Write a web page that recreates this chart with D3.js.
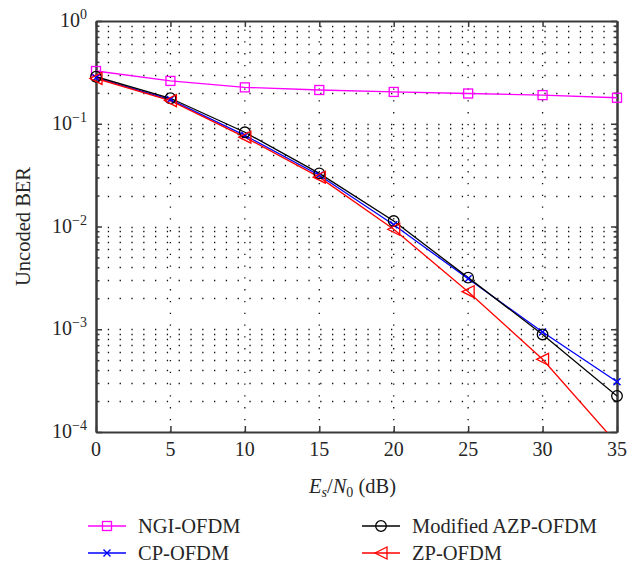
<!DOCTYPE html>
<html>
<head>
<meta charset="utf-8">
<script src="https://cdn.jsdelivr.net/npm/d3@7"></script>
<style>
  html, body { margin: 0; padding: 0; background: #fff; }
  svg { display: block; }
</style>
</head>
<body>
<svg id="chart" width="643" height="563" style="font-family: 'Liberation Serif', 'Times New Roman', Times, 'DejaVu Serif', serif;"></svg>
<script>
// ---- data ----
const snr = [0, 5, 10, 15, 20, 25, 30, 35];
const ngiOfdm = [0.326, 0.261, 0.226, 0.213, 0.204, 0.197, 0.190, 0.179];
const cpOfdm = [0.280, 0.172, 0.077, 0.0315, 0.0104, 0.0031, 0.00094, 0.000309];
const azpOfdm = [0.287, 0.177, 0.0826, 0.0329, 0.0113, 0.00318, 0.00089, 0.000224];
const zpOfdm = [0.276, 0.168, 0.074, 0.0302, 0.0094, 0.00232, 0.00051, 0.000077];
const xTicks = [0, 5, 10, 15, 20, 25, 30, 35];
const yTickExps = [0, -1, -2, -3, -4];
const seriesNames = ["NGI-OFDM", "CP-OFDM", "Modified AZP-OFDM", "ZP-OFDM"];
const xLabel = "E_s/N_0 (dB)";
const yLabel = "Uncoded BER";

// ---- layout ----
const FONT = "'Liberation Serif', 'Times New Roman', Times, 'DejaVu Serif', serif";
const TXT = "#262626";
const L = 96, R = 617, T = 21, B = 432;
const svg = d3.select("#chart");
const x = d3.scaleLinear().domain([0, 35]).range([L, R]);
const y = d3.scaleLog().domain([1e-4, 1]).range([B, T]);

const majors = yTickExps.map(e => Math.pow(10, e));
const minors = [];
for (let e = -4; e < 0; e++) for (let m = 2; m <= 9; m++) minors.push(m * Math.pow(10, e));

// grid
const grid = svg.append("g").attr("stroke", "#111").attr("stroke-width", 1.3)
  .attr("stroke-dasharray", "1.3,10.5");
grid.selectAll("line.h").data(minors.concat(majors.filter(v => v > 1e-4 && v < 1)))
  .enter().append("line")
  .attr("x1", L).attr("x2", R)
  .attr("y1", d => Math.round(y(d)) + 0.5).attr("y2", d => Math.round(y(d)) + 0.5);
grid.selectAll("line.v").data(xTicks.filter(v => v > 0 && v < 35))
  .enter().append("line")
  .attr("x1", d => x(d)).attr("x2", d => x(d))
  .attr("y1", B).attr("y2", T);

// axes (ticks inward)
const axisColor = "#3a3a3a";
function styleAxis(g) {
  g.select(".domain").attr("stroke", axisColor).attr("stroke-width", 2);
  g.selectAll(".tick line").attr("stroke", axisColor).attr("stroke-width", 1.5);
  g.selectAll(".tick text").remove();
}
svg.append("g").attr("transform", `translate(0,${B})`)
  .call(d3.axisBottom(x).tickValues(xTicks).tickSize(-6).tickSizeOuter(0).tickFormat(""))
  .call(styleAxis);
svg.append("g").attr("transform", `translate(0,${T})`)
  .call(d3.axisTop(x).tickValues(xTicks).tickSize(-6).tickSizeOuter(0).tickFormat(""))
  .call(styleAxis);
svg.append("g").attr("transform", `translate(${L},0)`)
  .call(d3.axisLeft(y).tickValues(majors).tickSize(-6).tickSizeOuter(0).tickFormat(""))
  .call(styleAxis);
svg.append("g").attr("transform", `translate(${R},0)`)
  .call(d3.axisRight(y).tickValues(majors).tickSize(-6).tickSizeOuter(0).tickFormat(""))
  .call(styleAxis);
svg.append("g").attr("transform", `translate(${L},0)`)
  .call(d3.axisLeft(y).tickValues(minors).tickSize(-3.5).tickSizeOuter(0).tickFormat(""))
  .call(styleAxis);
svg.append("g").attr("transform", `translate(${R},0)`)
  .call(d3.axisRight(y).tickValues(minors).tickSize(-3.5).tickSizeOuter(0).tickFormat(""))
  .call(styleAxis);

// text helper
function txt(sel) { return sel.attr("font-family", FONT).attr("fill", TXT); }

// tick labels
svg.append("g").selectAll("text").data(xTicks).enter().append("text")
  .call(txt)
  .attr("x", d => x(d)).attr("y", 456)
  .attr("text-anchor", "middle").attr("font-size", 20)
  .text(d => d);
const yl = svg.append("g").selectAll("text").data(yTickExps).enter().append("text")
  .call(txt)
  .attr("x", 87).attr("y", d => y(Math.pow(10, d)) + 6)
  .attr("text-anchor", "end").attr("font-size", 20);
yl.append("tspan").text("10");
yl.append("tspan").attr("dy", -8).attr("font-size", 14)
  .text(d => d === 0 ? "0" : "\u2212" + Math.abs(d));

// axis titles
const xl = svg.append("text").call(txt).attr("x", (L + R) / 2 - 4).attr("y", 493)
  .attr("text-anchor", "middle").attr("font-size", 20.5);
const xp = xLabel.match(/^(\w)_(\w)\/(\w)_(\w) (.*)$/);
xl.append("tspan").attr("font-style", "italic").text(xp[1]);
xl.append("tspan").attr("font-style", "italic").attr("font-size", 14).attr("dy", 4).text(xp[2]);
xl.append("tspan").attr("dy", -4).text("/");
xl.append("tspan").attr("font-style", "italic").text(xp[3]);
xl.append("tspan").attr("font-size", 14).attr("dy", 4).text(xp[4]);
xl.append("tspan").attr("dy", -4).text(" " + xp[5]);

svg.append("text").call(txt).attr("transform", `translate(30,${(T + B) / 2}) rotate(-90)`)
  .attr("text-anchor", "middle").attr("font-size", 20.5).text(yLabel);

// series
svg.append("defs").append("clipPath").attr("id", "plotclip")
  .append("rect").attr("x", L).attr("y", T).attr("width", R - L).attr("height", B - T);

const series = [
  { name: seriesNames[0], vals: ngiOfdm, color: "#ff00ff", marker: "square" },
  { name: seriesNames[1], vals: cpOfdm, color: "#0000ff", marker: "x" },
  { name: seriesNames[2], vals: azpOfdm, color: "#000000", marker: "circle" },
  { name: seriesNames[3], vals: zpOfdm, color: "#ff0000", marker: "tri" }
];

function drawMarker(g, type, cx, cy, color) {
  if (type === "square") {
    g.append("rect").attr("x", cx - 4.5).attr("y", cy - 4.5).attr("width", 9).attr("height", 9)
      .attr("fill", "none").attr("stroke", color).attr("stroke-width", 1.3);
  } else if (type === "circle") {
    g.append("circle").attr("cx", cx).attr("cy", cy).attr("r", 5.3)
      .attr("fill", "none").attr("stroke", color).attr("stroke-width", 1.3);
  } else if (type === "x") {
    const s = 3.5;
    g.append("path").attr("d", `M${cx - s},${cy - s}L${cx + s},${cy + s}M${cx - s},${cy + s}L${cx + s},${cy - s}`)
      .attr("stroke", color).attr("stroke-width", 1.4).attr("fill", "none");
  } else if (type === "tri") {
    g.append("path").attr("d", `M${cx - 6},${cy}L${cx + 6},${cy - 6}L${cx + 6},${cy + 6}Z`)
      .attr("fill", "none").attr("stroke", color).attr("stroke-width", 1.3);
  }
}

const line = d3.line().x((d, i) => x(snr[i])).y(d => y(d));
const plot = svg.append("g").attr("clip-path", "url(#plotclip)");
series.forEach(s => {
  plot.append("path").datum(s.vals).attr("d", line)
    .attr("fill", "none").attr("stroke", s.color).attr("stroke-width", 1.3);
});
const mk = svg.append("g");
series.forEach(s => {
  s.vals.forEach((v, i) => {
    if (v >= 1e-4 && v <= 1) drawMarker(mk, s.marker, x(snr[i]), y(v), s.color);
  });
});

// legend
const legendPos = [
  { lx: 88, ty: 526 }, { lx: 88, ty: 553 },
  { lx: 362, ty: 526 }, { lx: 362, ty: 553 }
];
const lg = svg.append("g");
series.forEach((s, i) => {
  const p = legendPos[i];
  lg.append("line").attr("x1", p.lx).attr("x2", p.lx + 38).attr("y1", p.ty).attr("y2", p.ty)
    .attr("stroke", s.color).attr("stroke-width", 1.3);
  drawMarker(lg, s.marker, p.lx + 19, p.ty, s.color);
  lg.append("text").call(txt).attr("x", p.lx + 50).attr("y", p.ty + 7).attr("font-size", 20.5).text(s.name);
});
</script>
</body>
</html>
